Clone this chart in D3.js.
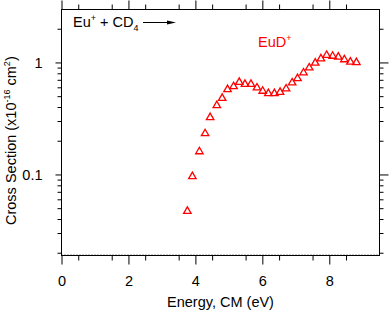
<!DOCTYPE html>
<html>
<head>
<meta charset="utf-8">
<script src="https://cdn.jsdelivr.net/npm/d3@7/dist/d3.min.js"></script>
<style>
    body { margin: 0; background: #fff; }
    svg { display: block; font-family: "Liberation Sans", Arial, sans-serif; }
</style>
</head>
<body>
<div id="chart"></div>
<script>

// energies (eV, CM) and EuD+ cross sections (1e-16 cm^2)
const energy = [3.76, 3.91, 4.12, 4.29, 4.44, 4.64, 4.80, 4.96, 5.14, 5.31,
    5.48, 5.66, 5.84, 6.01, 6.18, 6.36, 6.53, 6.71, 6.89, 7.05,
    7.23, 7.40, 7.58, 7.75, 7.92, 8.10, 8.27, 8.45, 8.63, 8.81];
const crossSection = [0.047, 0.096, 0.160, 0.232, 0.323, 0.413, 0.48, 0.574, 0.61, 0.667,
    0.64, 0.64, 0.594, 0.555, 0.529, 0.529, 0.543, 0.582, 0.659, 0.72,
    0.809, 0.897, 0.99, 1.08, 1.16, 1.14, 1.12, 1.06, 1.01, 1.0];

const xTicks = [0, 2, 4, 6, 8];
const xMinorTicks = d3.range(0.5, 9.5, 1);
const yTicks = [0.1, 1];
const yTickLabels = ['0.1', '1'];
const yMinorTicks = [0.02, 0.03, 0.04, 0.05, 0.06, 0.07, 0.08, 0.09,
    0.2, 0.3, 0.4, 0.5, 0.6, 0.7, 0.8, 0.9, 2];

const width = 390;
const height = 314;
const plot = { left: 61.5, right: 379.5, top: 9.5, bottom: 255.5 };
const fontSize = 14.5;
const supSize = 9;

const svg = d3.select('#chart').append('svg')
    .attr('width', width)
    .attr('height', height);

const x = d3.scaleLinear().domain([0, 9.5]).range([plot.left, plot.right]);
const y = d3.scaleLog().domain([0.0189, 2.97]).range([plot.bottom, plot.top]);

const red = '#ff0000';

function styleAxis(g) {
    g.select('.domain').remove();
    g.selectAll('line').attr('stroke', '#000').attr('stroke-width', 1);
    g.selectAll('text')
        .attr('font-family', '"Liberation Sans", Arial, sans-serif')
        .attr('font-size', fontSize)
        .attr('fill', '#000');
}

// bottom axis
svg.append('g')
    .attr('transform', `translate(0,${plot.bottom})`)
    .call(d3.axisBottom(x).tickValues(xTicks).tickSize(9).tickPadding(11).tickFormat(d3.format('d')))
    .call(styleAxis);
svg.append('g')
    .attr('transform', `translate(0,${plot.bottom})`)
    .call(d3.axisBottom(x).tickValues(xMinorTicks).tickSize(5).tickFormat(''))
    .call(styleAxis);

// top axis
svg.append('g')
    .attr('transform', `translate(0,${plot.top})`)
    .call(d3.axisTop(x).tickValues(xTicks).tickSize(9).tickFormat(''))
    .call(styleAxis);
svg.append('g')
    .attr('transform', `translate(0,${plot.top})`)
    .call(d3.axisTop(x).tickValues(xMinorTicks).tickSize(5).tickFormat(''))
    .call(styleAxis);

// left axis
svg.append('g')
    .attr('transform', `translate(${plot.left},0)`)
    .call(d3.axisLeft(y).tickValues(yTicks).tickSize(6).tickPadding(13)
        .tickFormat((d, i) => yTickLabels[i]))
    .call(styleAxis);
svg.append('g')
    .attr('transform', `translate(${plot.left},0)`)
    .call(d3.axisLeft(y).tickValues(yMinorTicks).tickSize(4).tickFormat(''))
    .call(styleAxis);

// right axis
svg.append('g')
    .attr('transform', `translate(${plot.right},0)`)
    .call(d3.axisRight(y).tickValues(yTicks).tickSize(9).tickFormat(''))
    .call(styleAxis);
svg.append('g')
    .attr('transform', `translate(${plot.right},0)`)
    .call(d3.axisRight(y).tickValues(yMinorTicks).tickSize(4).tickFormat(''))
    .call(styleAxis);

// faint dotted line just above the bottom axis
svg.append('line')
    .attr('x1', plot.left).attr('x2', plot.right)
    .attr('y1', plot.bottom - 1).attr('y2', plot.bottom - 1)
    .attr('stroke', '#999')
    .attr('stroke-width', 1)
    .attr('stroke-dasharray', '1,2');

// frame
svg.append('rect')
    .attr('x', plot.left)
    .attr('y', plot.top)
    .attr('width', plot.right - plot.left)
    .attr('height', plot.bottom - plot.top)
    .attr('fill', 'none')
    .attr('stroke', '#000')
    .attr('stroke-width', 1);

// data
const triangle = d3.symbol().type(d3.symbolTriangle).size(24);
svg.append('g')
    .selectAll('path')
    .data(energy.map((e, i) => ({ e: e, s: crossSection[i] })))
    .join('path')
    .attr('transform', (d) => `translate(${x(d.e)},${y(d.s)})`)
    .attr('d', triangle)
    .attr('fill', 'none')
    .attr('stroke', red)
    .attr('stroke-width', 1.3);

// reaction label with arrow
const reaction = svg.append('text')
    .attr('x', 73)
    .attr('y', 27)
    .attr('font-size', fontSize)
    .attr('fill', '#000');
reaction.append('tspan').text('Eu');
reaction.append('tspan').attr('font-size', supSize).attr('dy', -6).text('+');
reaction.append('tspan').attr('dy', 6).text(' + CD');
reaction.append('tspan').attr('font-size', supSize).attr('dy', 4).text('4');

svg.append('line')
    .attr('x1', 143).attr('x2', 170)
    .attr('y1', 22.5).attr('y2', 22.5)
    .attr('stroke', '#000')
    .attr('stroke-width', 1);
svg.append('path')
    .attr('d', 'M167,20.5 L176,22.5 L167,24.5 Z')
    .attr('fill', '#000');

// series label
const seriesLabel = svg.append('text')
    .attr('x', 258)
    .attr('y', 47)
    .attr('font-size', fontSize)
    .attr('fill', red);
seriesLabel.append('tspan').text('EuD');
seriesLabel.append('tspan').attr('font-size', supSize).attr('dy', -6).text('+');

// axis titles
svg.append('text')
    .attr('x', (plot.left + plot.right) / 2)
    .attr('y', 307)
    .attr('text-anchor', 'middle')
    .attr('font-size', fontSize)
    .text('Energy, CM (eV)');

const yTitle = svg.append('text')
    .attr('transform', 'translate(16,225) rotate(-90)')
    .attr('text-anchor', 'start')
    .attr('font-size', fontSize);
yTitle.append('tspan').text('Cross Section (x10');
yTitle.append('tspan').attr('font-size', supSize).attr('dy', -6).text('-16');
yTitle.append('tspan').attr('dy', 6).text(' cm');
yTitle.append('tspan').attr('font-size', supSize).attr('dy', -6).text('2');
yTitle.append('tspan').attr('dy', 6).text(')');

</script>
</body>
</html>
